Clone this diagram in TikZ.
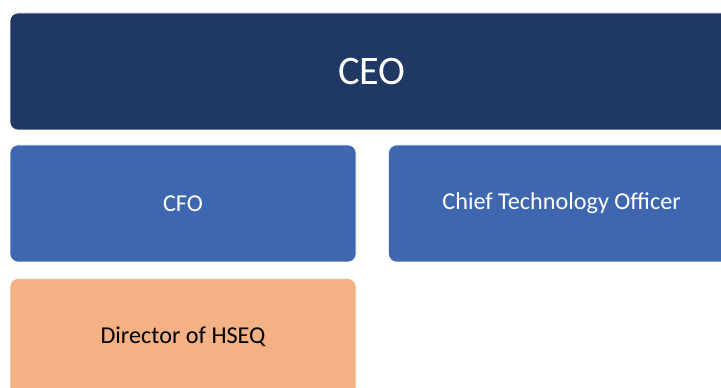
\documentclass[tikz,border=0pt]{standalone}
\usepackage{fontspec}
\setmainfont{Carlito}
\usepackage{xcolor}
\usetikzlibrary{positioning}

\definecolor{navy}{HTML}{203864}
\definecolor{midblue}{HTML}{3F67AF}
\definecolor{peach}{HTML}{F4B183}

\tikzset{
  orgbox/.style={draw=white, line width=0.6pt, rounded corners=8pt,
    minimum width=346pt, minimum height=117pt, inner sep=0pt,
    font=\fontsize{24.2}{29}\selectfont},
  ceobox/.style={orgbox, fill=navy, text=white, minimum width=724pt,
    font=\fontsize{40.5}{48}\selectfont},
  vpbox/.style={orgbox, fill=midblue, text=white},
  hseqbox/.style={orgbox, fill=peach, text=black}
}

\begin{document}
\begin{tikzpicture}[x=1pt, y=1pt]
   \clip (0,0) rectangle (721,388);
   \useasboundingbox (0,0) rectangle (721,388);

   % top row
   \node[ceobox] (ceo) at (372,316.5) {CEO};

   % second row
   \node[vpbox] (cfo) at (183,184.5) {CFO};
   \node[vpbox, right=32pt of cfo] (cto) {Chief Technology Officer};

   % under the CFO
   \node[hseqbox, below=16pt of cfo] (hseq) {Director of HSEQ};
\end{tikzpicture}
\end{document}
